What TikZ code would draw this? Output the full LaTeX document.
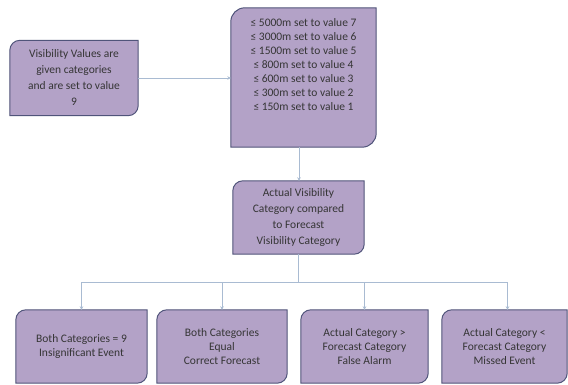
\documentclass[tikz,border=0pt]{standalone}
\usepackage{fontspec}
\setmainfont{Carlito}
\usetikzlibrary{arrows.meta,backgrounds,calc}

\definecolor{boxfill}{HTML}{B3A2C7}
\definecolor{boxline}{HTML}{50547A}
\definecolor{wire}{HTML}{A9BBD2}
\definecolor{ink}{HTML}{353535}

% Box with rounded top-left and bottom-right corners, drawn behind node #1
\newcommand\cutbox[2]{%
  \begin{scope}[on background layer]
    \draw[fill=boxfill, draw=boxline, line width=1pt]
      (#1.south west) -- ([yshift=-#2pt]#1.north west)
      arc[start angle=180, end angle=90, radius=#2pt]
      -- (#1.north east) -- ([yshift=#2pt]#1.south east)
      arc[start angle=0, end angle=-90, radius=#2pt] -- cycle;
  \end{scope}}

\begin{document}
\begin{tikzpicture}[x=1pt, y=-1pt,
  card/.style={inner sep=0pt, align=center, text=ink,
    font=\fontsize{11.5}{14}\selectfont},
  wirearrow/.style={draw=wire, line width=0.8pt,
    -{Stealth[length=3.5pt,width=3.5pt]}},
  wireline/.style={draw=wire, line width=0.8pt}]

  \useasboundingbox (0,0) rectangle (568,385);

  \node[card, minimum width=128pt, minimum height=75pt,
    font=\fontsize{11.5}{16}\selectfont] (vis) at (74,78)
    {Visibility Values are\\given categories\\and are set to value\\9};
  \cutbox{vis}{10}

  \node[card, minimum width=145pt, minimum height=139pt] (thr) at (303.5,77.5) {};
  \cutbox{thr}{14}
  \node[card] (thrtext) at (303.5,65)
    {≤ 5000m set to value 7\\≤ 3000m set to value 6\\≤ 1500m set to value 5\\
     ≤ 800m set to value 4\\≤ 600m set to value 3\\≤ 300m set to value 2\\
     ≤ 150m set to value 1};

  \node[card, minimum width=131pt, minimum height=73pt,
    font=\fontsize{11.5}{16}\selectfont] (cmp) at (298.5,217.5)
    {Actual Visibility\\Category compared\\to Forecast\\Visibility Category};
  \cutbox{cmp}{10}

  \node[card, minimum width=131pt, minimum height=73pt] (b1) at (81.5,346.5)
    {Both Categories = 9\\Insignificant Event};
  \cutbox{b1}{10}
  \node[card, minimum width=130pt, minimum height=73pt] (b2) at (222,346.5)
    {Both Categories\\Equal\\Correct Forecast};
  \cutbox{b2}{10}
  \node[card, minimum width=127pt, minimum height=73pt] (b3) at (364.5,346.5)
    {Actual Category >\\Forecast Category\\False Alarm};
  \cutbox{b3}{10}
  \node[card, minimum width=125pt, minimum height=73pt] (b4) at (504.5,346.5)
    {Actual Category <\\Forecast Category\\Missed Event};
  \cutbox{b4}{10}

  % connectors
  \draw[wirearrow] (vis.east) -- (vis.east -| thr.west);
  \draw[wirearrow] (299,147) -- (cmp.north -| 299,0);
  \coordinate (jn) at (298.5,282);
  \draw[wireline] (cmp.south) -- (jn);
  \draw[wirearrow] (jn) -| (b1.north);
  \draw[wirearrow] (jn) -| (b2.north);
  \draw[wirearrow] (jn) -| (b3.north);
  \draw[wirearrow] (jn) -| ([xshift=3pt]b4.north);
\end{tikzpicture}
\end{document}
